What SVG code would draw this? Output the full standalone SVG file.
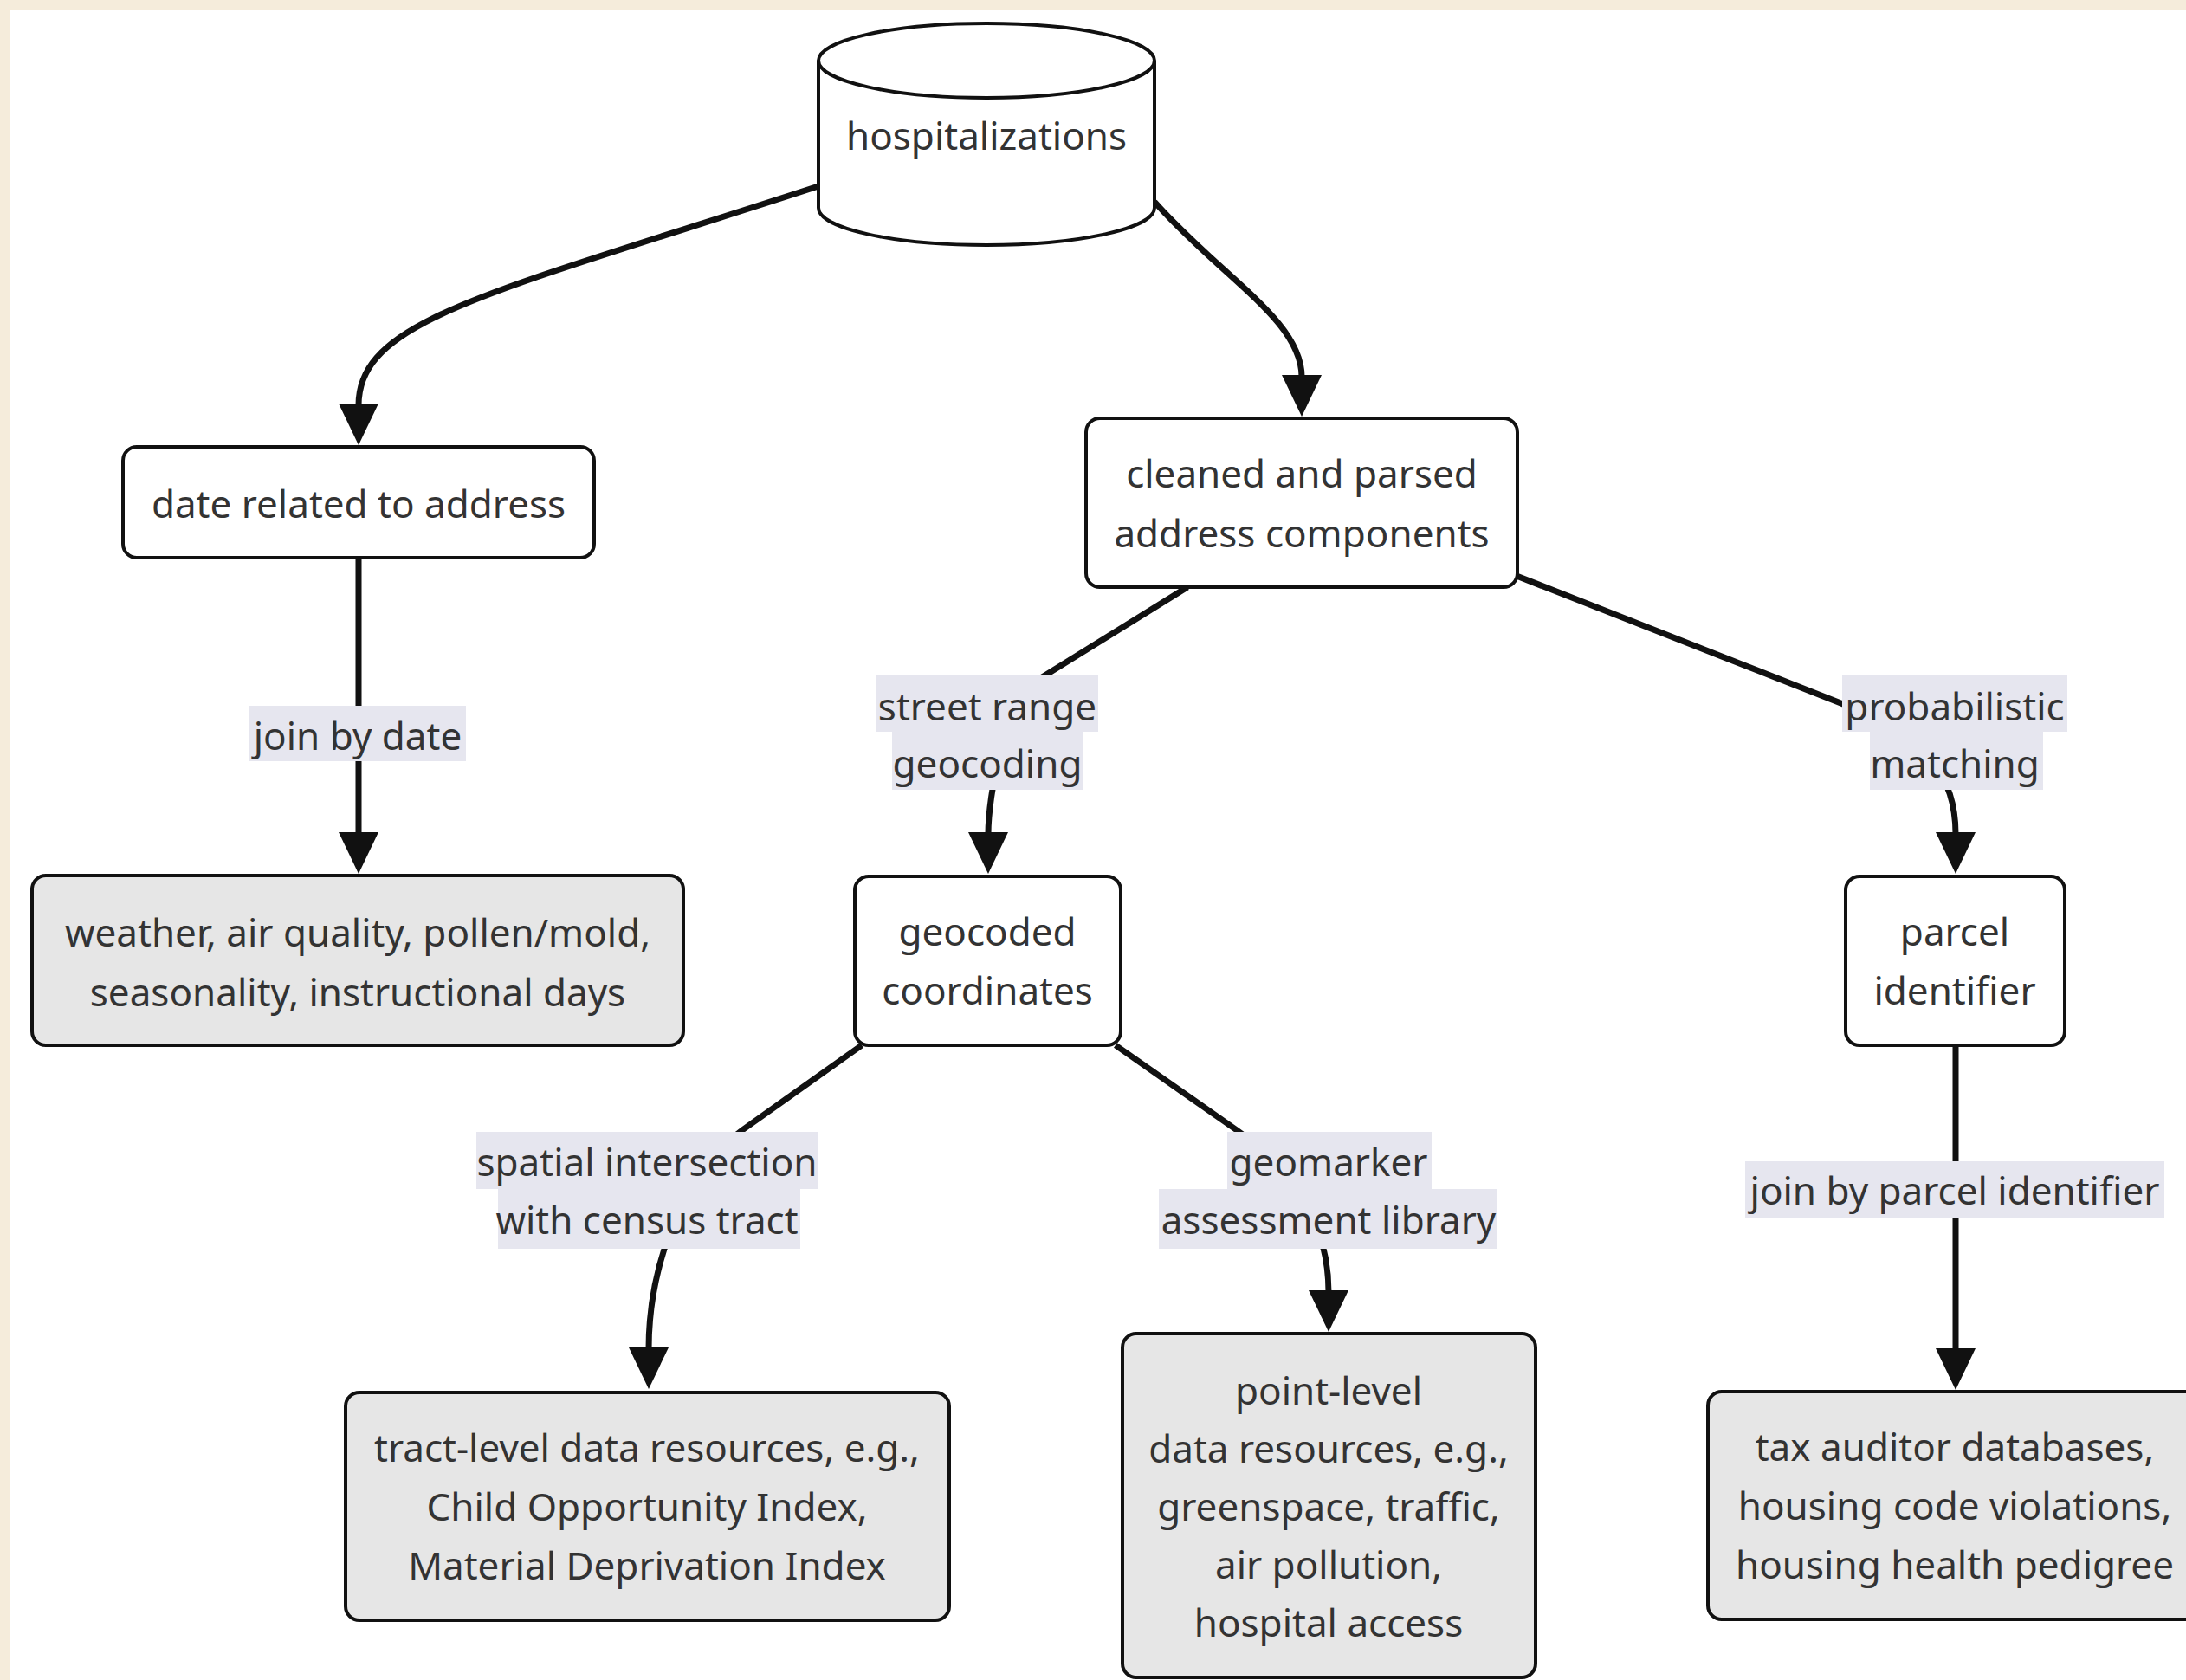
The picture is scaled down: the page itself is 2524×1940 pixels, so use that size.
<svg xmlns="http://www.w3.org/2000/svg" width="2524" height="1940" viewBox="0 0 2524 1940">
  <style>
    .node rect, .node path, .node ellipse { stroke: #111; stroke-width: 4; }
    .plain { fill: #ffffff; }
    .leaf { fill: #e6e6e6; }
    text { font-family: "Noto Sans", "Open Sans", "DejaVu Sans", sans-serif; font-size: 44px; fill: #333; text-anchor: middle; }
    .edge { fill: none; stroke: #111; stroke-width: 7; }
    .lbl { fill: #e6e6ef; }
  </style>
  <defs>
    <marker id="arrow" viewBox="0 0 48 46" refX="2" refY="23" markerWidth="48" markerHeight="46" markerUnits="userSpaceOnUse" orient="auto">
      <path d="M0,0 L48,23 L0,46 Z" fill="#111"/>
    </marker>
  </defs>

  <!-- page background -->
  <rect x="0" y="0" width="2524" height="1940" fill="#f5ecdb"/>
  <rect x="12" y="11" width="2512" height="1929" fill="#ffffff"/>

  <!-- connectors -->
  <g id="edges">
    <path class="edge" d="M945,215 C560,340 414,370 414,468" marker-end="url(#arrow)"/>
    <path class="edge" d="M1333,233 C1410,320 1503,370 1503,435" marker-end="url(#arrow)"/>
    <path class="edge" d="M414,644 L414,963" marker-end="url(#arrow)"/>
    <path class="edge" d="M1371,678 L1200,784 C1160,809 1141,920 1141,963" marker-end="url(#arrow)"/>
    <path class="edge" d="M1751,665 L2128,813 C2230,853 2258,900 2258,963" marker-end="url(#arrow)"/>
    <path class="edge" d="M995,1207 L857,1305 C790,1353 749,1460 749,1558" marker-end="url(#arrow)"/>
    <path class="edge" d="M1288,1207 L1428,1305 C1500,1355 1534,1420 1534,1492" marker-end="url(#arrow)"/>
    <path class="edge" d="M2258,1207 L2258,1559" marker-end="url(#arrow)"/>

    <!-- edge labels -->
    <g id="lbl-date">
      <rect class="lbl" x="288" y="815" width="250" height="64"/>
      <text x="413" y="866">join by date</text>
    </g>
    <g id="lbl-street">
      <rect class="lbl" x="1012" y="780" width="256" height="65"/>
      <rect class="lbl" x="1030" y="845" width="221" height="67"/>
      <text x="1140" y="832">street range</text>
      <text x="1140" y="898">geocoding</text>
    </g>
    <g id="lbl-prob">
      <rect class="lbl" x="2127" y="780" width="260" height="65"/>
      <rect class="lbl" x="2159" y="845" width="200" height="67"/>
      <text x="2257" y="832">probabilistic</text>
      <text x="2257" y="898">matching</text>
    </g>
    <g id="lbl-spatial">
      <rect class="lbl" x="550" y="1307" width="395" height="66"/>
      <rect class="lbl" x="575" y="1373" width="349" height="69"/>
      <text x="747" y="1358">spatial intersection</text>
      <text x="747" y="1425">with census tract</text>
    </g>
    <g id="lbl-geomarker">
      <rect class="lbl" x="1417" y="1307" width="236" height="66"/>
      <rect class="lbl" x="1338" y="1373" width="391" height="69"/>
      <text x="1534" y="1358">geomarker</text>
      <text x="1534" y="1425">assessment library</text>
    </g>
    <g id="lbl-parcel">
      <rect class="lbl" x="2015" y="1341" width="484" height="65"/>
      <text x="2257" y="1391">join by parcel identifier</text>
    </g>
  </g>

  <!-- nodes -->
  <g id="hospitalizations" class="node">
    <path class="plain" d="M945,70 L945,240 A194,43 0 0 0 1333,240 L1333,70"/>
    <ellipse class="plain" cx="1139" cy="70" rx="194" ry="43"/>
    <text x="1139" y="173">hospitalizations</text>
  </g>

  <g id="date-related" class="node">
    <rect class="plain" x="142" y="516" width="544" height="128" rx="16"/>
    <text x="414" y="598">date related to address</text>
  </g>

  <g id="cleaned-address" class="node">
    <rect class="plain" x="1254" y="483" width="498" height="195" rx="16"/>
    <text x="1503" y="563">cleaned and parsed</text>
    <text x="1503" y="632">address components</text>
  </g>

  <g id="date-resources" class="node">
    <rect class="leaf" x="37" y="1011" width="752" height="196" rx="16"/>
    <text x="413" y="1093">weather, air quality, pollen/mold,</text>
    <text x="413" y="1162">seasonality, instructional days</text>
  </g>

  <g id="geocoded" class="node">
    <rect class="plain" x="987" y="1012" width="307" height="195" rx="16"/>
    <text x="1140" y="1092">geocoded</text>
    <text x="1140" y="1160">coordinates</text>
  </g>

  <g id="parcel" class="node">
    <rect class="plain" x="2131" y="1012" width="253" height="195" rx="16"/>
    <text x="2257" y="1092">parcel</text>
    <text x="2257" y="1160">identifier</text>
  </g>

  <g id="tract-resources" class="node">
    <rect class="leaf" x="399" y="1608" width="697" height="263" rx="16"/>
    <text x="747" y="1688">tract-level data resources, e.g.,</text>
    <text x="747" y="1756">Child Opportunity Index,</text>
    <text x="747" y="1824">Material Deprivation Index</text>
  </g>

  <g id="point-resources" class="node">
    <rect class="leaf" x="1296" y="1540" width="477" height="397" rx="16"/>
    <text x="1534" y="1622">point-level</text>
    <text x="1534" y="1689">data resources, e.g.,</text>
    <text x="1534" y="1756">greenspace, traffic,</text>
    <text x="1534" y="1823">air pollution,</text>
    <text x="1534" y="1890">hospital access</text>
  </g>

  <g id="parcel-resources" class="node">
    <rect class="leaf" x="1972" y="1607" width="570" height="263" rx="16"/>
    <text x="2257" y="1687">tax auditor databases,</text>
    <text x="2257" y="1755">housing code violations,</text>
    <text x="2257" y="1823">housing health pedigree</text>
  </g>
</svg>
